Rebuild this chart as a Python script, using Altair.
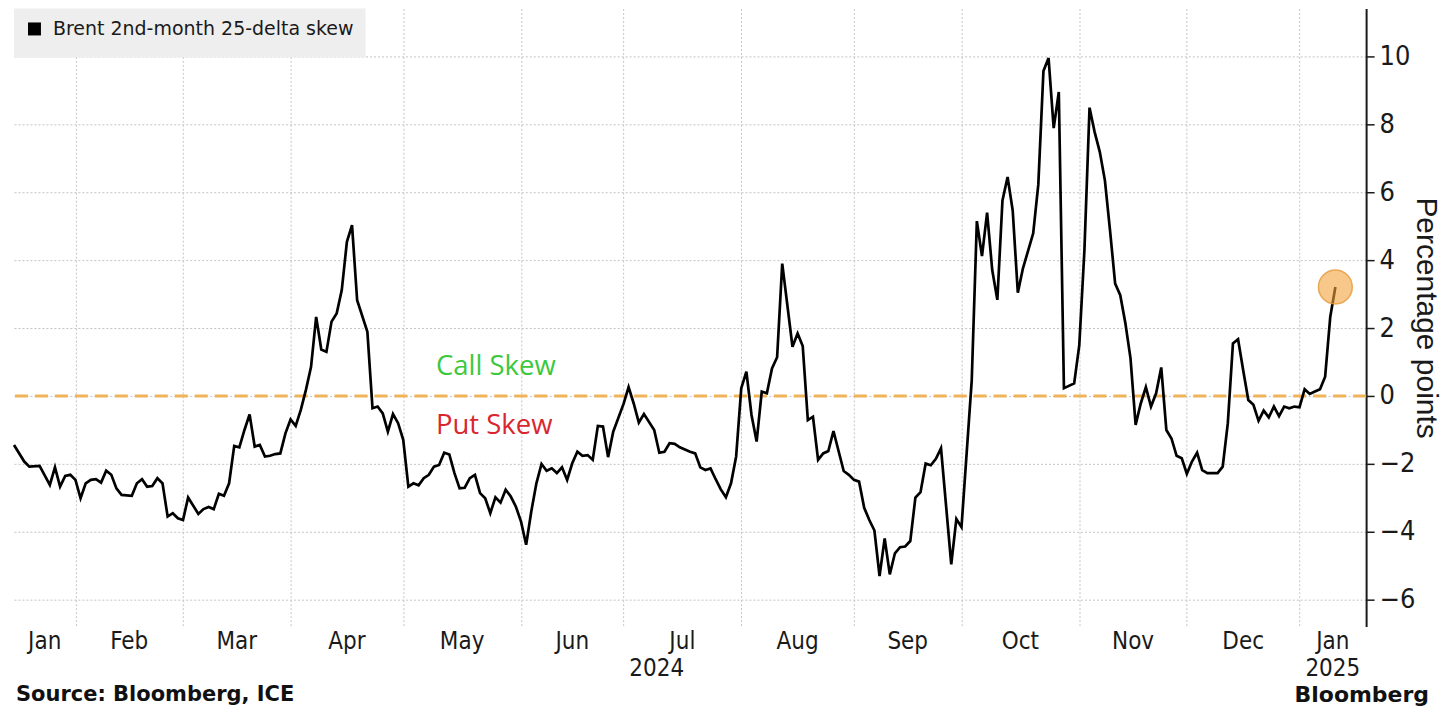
import altair as alt
import numpy as np
import pandas as pd

# ---------------- data ----------------
start_date = "2024-01-16"      # first trading day shown (index 0)
end_date = "2025-01-20"        # right edge of the x axis (weekday axis)
series_name = "Brent 2nd-month 25-delta skew"

trading_day = [0, 2, 3, 5, 7, 8, 9, 10, 11, 12, 13, 14, 15, 16, 17, 18, 19, 20, 21, 23,
               24, 25, 26, 27, 28, 29, 30, 31, 32, 33, 34, 36, 37, 38, 39, 40, 41, 42, 43, 44,
               45, 46, 47, 48, 49, 50, 51, 52, 53, 54, 55, 56, 57, 58, 59, 60, 61, 62, 63, 64,
               65, 66, 67, 69, 70, 71, 72, 73, 74, 75, 76, 77, 78, 79, 80, 81, 82, 83, 84, 85,
               86, 87, 88, 89, 90, 91, 92, 93, 94, 95, 96, 97, 98, 99, 100, 101, 102, 103, 104, 105,
               106, 107, 108, 109, 110, 111, 112, 113, 114, 115, 116, 117, 119, 120, 121, 122, 123, 125, 126, 127,
               128, 129, 130, 132, 133, 134, 135, 136, 137, 138, 139, 140, 141, 142, 143, 144, 145, 146, 147, 148,
               149, 150, 152, 153, 154, 155, 156, 157, 158, 159, 160, 162, 163, 164, 165, 166, 167, 168, 169, 170,
               171, 172, 173, 174, 175, 176, 177, 178, 179, 180, 181, 183, 184, 185, 187, 188, 189, 190, 191, 192,
               193, 194, 195, 196, 197, 199, 200, 201, 202, 203, 204, 205, 207, 208, 209, 210, 211, 212, 213, 214,
               215, 216, 217, 218, 219, 220, 221, 222, 223, 224, 225, 226, 227, 228, 229, 230, 231, 232, 233, 234,
               235, 236, 237, 238, 239, 240, 241, 242, 243, 244, 245, 246, 247, 248, 249, 250, 251, 252, 253, 254,
               255, 256, 257, 258]

skew = [-1.44, -1.93, -2.08, -2.06, -2.62, -2.10, -2.67, -2.35, -2.32, -2.47, -3.01, -2.57, -2.47, -2.45, -2.55, -2.20, -2.32, -2.72, -2.91, -2.94,
        -2.57, -2.45, -2.67, -2.65, -2.42, -2.57, -3.55, -3.45, -3.60, -3.65, -2.99, -3.47, -3.33, -3.27, -3.33, -2.88, -2.94, -2.57, -1.47, -1.51,
        -1.00, -0.54, -1.49, -1.44, -1.78, -1.76, -1.71, -1.69, -1.10, -0.69, -0.88, -0.41, 0.18, 0.86, 2.33, 1.37, 1.30, 2.19, 2.43, 3.12,
        4.54, 5.03, 2.82, 1.89, -0.36, -0.31, -0.51, -1.05, -0.53, -0.80, -1.29, -2.67, -2.57, -2.63, -2.42, -2.32, -2.08, -2.03, -1.67, -1.72,
        -2.27, -2.72, -2.70, -2.42, -2.32, -2.86, -3.01, -3.45, -2.98, -3.14, -2.76, -2.96, -3.26, -3.70, -4.38, -3.40, -2.57, -2.00, -2.20, -2.13,
        -2.27, -2.10, -2.47, -1.98, -1.64, -1.76, -1.74, -1.88, -0.88, -0.90, -1.80, -1.05, -0.24, 0.26, -0.22, -0.78, -0.53, -1.00, -1.67, -1.64,
        -1.39, -1.41, -1.51, -1.64, -1.69, -2.10, -2.18, -2.13, -2.45, -2.75, -2.98, -2.57, -1.78, 0.23, 0.72, -0.56, -1.34, 0.13, 0.08, 0.81,
        1.14, 3.90, 1.45, 1.84, 1.47, -0.71, -0.61, -1.88, -1.69, -1.62, -1.03, -2.21, -2.32, -2.47, -2.52, -3.29, -3.65, -3.96, -5.30, -4.19,
        -5.25, -4.63, -4.45, -4.43, -4.27, -2.99, -2.83, -1.99, -2.04, -1.85, -1.54, -4.96, -3.62, -3.86, 0.46, 5.15, 4.12, 5.40, 3.71, 2.83,
        5.76, 6.45, 5.46, 3.04, 3.76, 4.79, 6.23, 9.57, 9.95, 7.89, 8.95, 0.23, 0.37, 1.50, 4.29, 8.49, 7.77, 7.19, 6.35, 4.88,
        3.31, 2.97, 2.14, 1.11, -0.85, -0.22, 0.26, -0.31, 0.08, 0.84, -1.00, -1.25, -1.76, -1.83, -2.29, -1.93, -1.67, -2.18, -2.27, -2.27,
        -2.27, -2.08, -0.80, 1.55, 1.67, 0.76, -0.12, -0.26, -0.73, -0.43, -0.63, -0.31, -0.59, -0.31, -0.36, -0.31, -0.33, 0.20, 0.06, 0.13,
        0.20, 0.57, 2.33, 3.21]

month_names = ["Jan", "Feb", "Mar", "Apr", "May", "Jun", "Jul", "Aug", "Sep", "Oct", "Nov", "Dec", "Jan"]
month_firsts = ["2024-02-01", "2024-03-01", "2024-04-01", "2024-05-01", "2024-06-01", "2024-07-01",
                "2024-08-01", "2024-09-01", "2024-10-01", "2024-11-01", "2024-12-01", "2025-01-01"]
year_labels = ["2024", "2025"]
y_ticks = list(range(-6, 12))
y_domain = [-6.79, 11.41]

annot_text = ["Call Skew", "Put Skew"]
annot_day = [82.4, 82.4]
annot_value = [0.85, -0.88]
annot_color = ["#3cc83c", "#d9262e"]

# ---------------- derived tables ----------------
x_end = int(np.busday_count(start_date, end_date))
month_starts = [int(np.busday_count(start_date, m)) for m in month_firsts]
bounds = [0] + month_starts + [x_end]
month_pos = [(bounds[i] + bounds[i + 1]) / 2 for i in range(len(month_names))]
jan25 = month_starts[-1]
year_pos = [(0 + jan25) / 2, (jan25 + x_end) / 2]

df = pd.DataFrame({"day": trading_day, "skew": skew, "series": series_name})
last = df.tail(1)
months_df = pd.DataFrame({"pos": month_pos, "name": month_names})
years_df = pd.DataFrame({"pos": year_pos, "name": year_labels})
annot_df = pd.DataFrame({"pos": annot_day, "val": annot_value, "text": annot_text, "color": annot_color})
zero_df = pd.DataFrame({"level": [0]})

NARROW = "Liberation Sans Narrow, Arial Narrow, DejaVu Sans Condensed, sans-serif"
W, H = 1354, 619

xs = alt.Scale(domain=[0, x_end], nice=False, zero=False)
ys = alt.Scale(domain=y_domain, nice=False, zero=False)

odd = "datum.value % 2 != 0"

x_axis = alt.Axis(values=month_starts, grid=True, gridDash=[2, 2], gridColor="#c4c4c4", gridWidth=1,
                  labels=False, ticks=False, domain=False, title=None)
y_axis = alt.Axis(orient="right", values=y_ticks, title="Percentage points", titleAngle=90,
                  titleFont="Liberation Sans", titleFontSize=30, titleFontWeight="normal", titleColor="#1a1a1a",
                  titlePadding=-4,
                  labelFont=NARROW, labelFontSize=27, labelColor="#1a1a1a", labelPadding=5,
                  labelExpr="datum.value % 2 == 0 ? datum.label : ''", labelOverlap=False,
                  domainColor="#1a1a1a", domainWidth=2, tickColor="#1a1a1a", tickWidth=1.5,
                  tickSize={"condition": {"test": odd, "value": 5}, "value": 8},
                  grid=True, gridColor="#c4c4c4", gridDash=[2, 2], gridWidth=1,
                  gridOpacity={"condition": {"test": odd, "value": 0}, "value": 1})

zero = alt.Chart(zero_df).mark_rule(color="#efb35a", strokeWidth=3, strokeDash=[13, 7]).encode(
    y=alt.Y("level:Q", scale=ys, axis=y_axis))

line = alt.Chart(df).mark_line(strokeWidth=2.7).encode(
    x=alt.X("day:Q", scale=xs, axis=x_axis),
    y=alt.Y("skew:Q", scale=ys, axis=y_axis),
    color=alt.Color("series:N", scale=alt.Scale(range=["#000000"]),
                    legend=alt.Legend(title=None, orient="top-left", offset=0, padding=11,
                                      fillColor="#eeeeee", symbolType="square", symbolSize=36,
                                      symbolStrokeWidth=7, symbolFillColor="#000000",
                                      labelFont="DejaVu Sans", labelFontSize=19, labelColor="#1a1a1a",
                                      labelOffset=9, labelLimit=600, cornerRadius=0)))

dot = alt.Chart(last).mark_circle(size=1150, color="#f4a23c", fillOpacity=0.6, stroke="#e39a3b",
                                  strokeWidth=1.5, strokeOpacity=0.8).encode(
    x=alt.X("day:Q", scale=xs), y=alt.Y("skew:Q", scale=ys))

annots = alt.Chart(annot_df).mark_text(align="left", baseline="middle", font="Open Sans", fontSize=27.5).encode(
    x=alt.X("pos:Q", scale=xs), y=alt.Y("val:Q", scale=ys), text="text:N",
    color=alt.Color("color:N", scale=None))

month_text = alt.Chart(months_df).mark_text(font=NARROW, fontSize=24, baseline="middle", color="#1a1a1a").encode(
    x=alt.X("pos:Q", scale=xs), y=alt.value(634), text="name:N")

year_text = alt.Chart(years_df).mark_text(font=NARROW, fontSize=24, baseline="middle", color="#1a1a1a").encode(
    x=alt.X("pos:Q", scale=xs), y=alt.value(661), text="name:N")

source = alt.Chart(pd.DataFrame({"t": ["Source: Bloomberg, ICE"]})).mark_text(
    align="left", baseline="alphabetic", font="DejaVu Sans", fontWeight="bold", fontSize=21, color="#111111").encode(
    x=alt.value(2), y=alt.value(693), text="t:N")

brand = alt.Chart(pd.DataFrame({"t": ["Bloomberg"]})).mark_text(
    align="right", baseline="alphabetic", font="DejaVu Sans", fontWeight="bold", fontSize=22, color="#111111").encode(
    x=alt.value(1417), y=alt.value(694), text="t:N")

chart = alt.layer(zero, line, dot, annots, month_text, year_text, source, brand).properties(
    width=W, height=H, padding={"left": 0, "top": 0, "right": 1, "bottom": 0}, background="white"
).configure_view(stroke=None)

chart.save("out.html", embed_options={"renderer": "svg", "actions": False})
